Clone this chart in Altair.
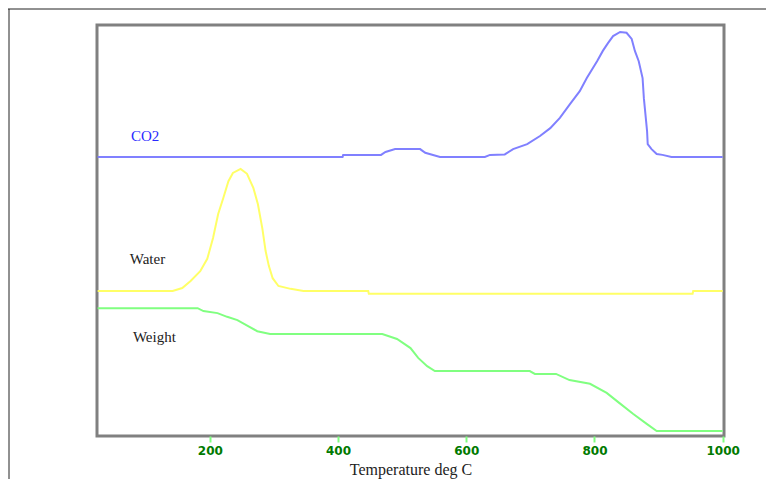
import altair as alt
import pandas as pd

# Temperature (deg C) and relative signal (0-100, arbitrary units)
co2_t = [25, 407, 408, 467, 474, 489, 528, 536, 559, 629, 637, 660, 673, 695, 715, 731, 746, 762, 777, 788,
         804, 813, 821, 829, 840, 850, 858, 863, 869, 875, 877, 880, 882, 883, 889, 897, 906, 920, 1000]
co2_v = [67.9, 67.9, 68.4, 68.4, 69.1, 69.8, 69.8, 68.9, 67.9, 67.9, 68.4, 68.5, 69.8, 71.0, 73.0, 74.9, 77.4, 80.8, 83.9, 87.1,
         91.2, 93.7, 95.6, 97.3, 98.3, 98.1, 96.6, 93.7, 91.2, 87.1, 82.2, 77.4, 74.2, 71.0, 69.8, 68.6, 68.4, 67.9, 67.9]

water_t = [25, 142, 157, 170, 185, 196, 205, 213, 221, 229, 236, 248, 258, 268, 275, 282, 287, 292, 298, 307,
           326, 346, 447, 448, 953, 954, 1000]
water_v = [35.3, 35.3, 36.0, 37.7, 40.1, 43.1, 48.2, 54.0, 57.9, 62.0, 64.0, 65.0, 63.8, 60.3, 56.4, 50.4, 45.0, 41.4, 38.4, 36.5,
           35.8, 35.3, 35.3, 34.6, 34.6, 35.3, 35.3]

weight_t = [25, 181, 190, 212, 227, 243, 259, 274, 294, 469, 492, 513, 525, 539, 551, 699, 707, 740, 761, 793,
            819, 839, 860, 882, 897, 1000]
weight_v = [31.1, 31.1, 30.4, 29.9, 29.0, 28.2, 26.8, 25.5, 24.8, 24.8, 23.6, 21.4, 19.0, 17.0, 15.8, 15.8, 15.1, 15.1, 13.6, 12.7,
            10.5, 8.0, 5.4, 2.9, 1.2, 1.2]

series_names = ["CO2", "Water", "Weight"]
series_colors = ["#8080ff", "#ffff66", "#80ff80"]

label_text = ["CO2", "Water", "Weight"]
label_t = [77, 75, 80]
label_v = [71.8, 41.8, 22.9]
label_colors = ["#2a2aff", "#222222", "#222222"]

tick_values = [200, 400, 600, 800, 1000]

rows = []
for name, ts, vs in [("CO2", co2_t, co2_v), ("Water", water_t, water_v), ("Weight", weight_t, weight_v)]:
    for i, (t, v) in enumerate(zip(ts, vs)):
        rows.append({"series": name, "t": t, "v": v, "order": i})
df = pd.DataFrame(rows)

labels_df = pd.DataFrame({"label": label_text, "t": label_t, "v": label_v, "c": label_colors})

xscale = alt.Scale(domain=[24, 1002], nice=False, zero=False)
yscale = alt.Scale(domain=[0, 100], nice=False, zero=False)

lines = alt.Chart(df).mark_line(strokeWidth=2).encode(
    x=alt.X("t:Q", scale=xscale,
            axis=alt.Axis(values=tick_values, title="Temperature deg C", format="d")),
    y=alt.Y("v:Q", scale=yscale, axis=None),
    color=alt.Color("series:N", scale=alt.Scale(domain=series_names, range=series_colors), legend=None),
    order="order:Q",
)

texts = alt.Chart(labels_df).mark_text(
    align="left", baseline="alphabetic", font="Liberation Serif", fontSize=15
).encode(
    x=alt.X("t:Q", scale=xscale),
    y=alt.Y("v:Q", scale=yscale),
    text="label:N",
    color=alt.Color("c:N", scale=None),
)

one = pd.DataFrame({"a": [0]})
outer_top = alt.Chart(one).mark_rule(color="#222222", strokeWidth=1).encode(
    x=alt.value(-89), x2=alt.value(700), y=alt.value(-16)
)
outer_left = alt.Chart(one).mark_rule(color="#222222", strokeWidth=1).encode(
    x=alt.value(-88), y=alt.value(-16), y2=alt.value(470)
)

chart = alt.layer(lines, texts, outer_top, outer_left).properties(
    width=627, height=411,
    padding={"left": 89, "top": 17, "right": 42, "bottom": 43},
    autosize="none",
    background="white",
).configure_view(
    stroke="#808080", strokeWidth=3
).configure_axis(
    domain=False, grid=False,
    tickColor="#80ff80", tickWidth=2, tickSize=6,
    labelColor="#007a00", labelFont="DejaVu Sans", labelFontSize=12, labelFontWeight="bold",
    labelPadding=3, labelFlush=False, labelOverlap=False,
    titleFont="Liberation Serif", titleFontSize=16, titleFontWeight="normal", titleColor="#222222",
    titlePadding=5,
)

chart.save("out.html", embed_options={"renderer": "svg", "actions": False})
